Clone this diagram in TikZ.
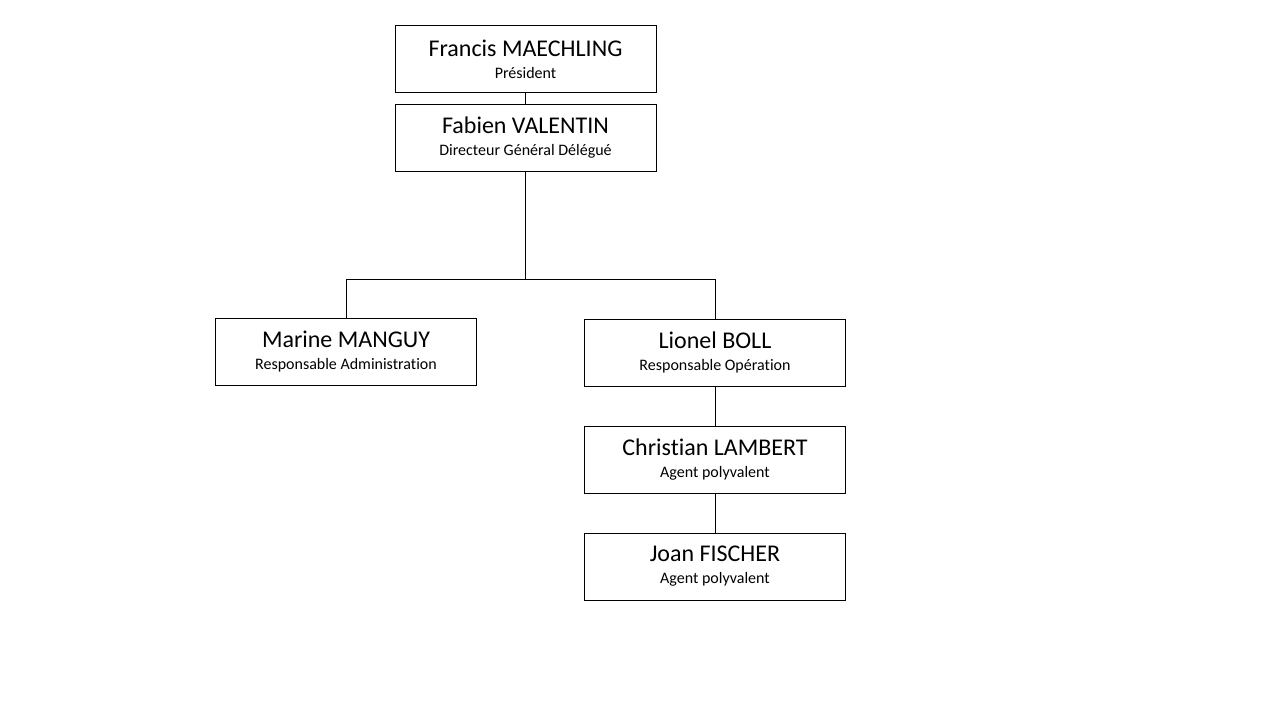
\documentclass[tikz,border=0pt]{standalone}
\usepackage{fontspec}
\setmainfont[Ligatures=NoCommon]{Carlito}
\usetikzlibrary{positioning}

\tikzset{
    person/.style={draw, line width=1pt, minimum width=261pt, minimum height=67pt, inner sep=0pt, align=center},
    link/.style={line width=1pt}
}
\newcommand{\pname}[1]{{\fontsize{24}{26}\selectfont #1}}
\newcommand{\prole}[1]{{\fontsize{16}{22}\selectfont #1}}

\begin{document}
\begin{tikzpicture}[x=1pt,y=-1pt]
            \useasboundingbox (0,0) rectangle (1280,720);

            \node[person] (pres) at (525.5,59) {\pname{Francis MAECHLING}\\[10pt]\prole{Président}};
            \node[person] (dgd) at (525.5,137.5) {\pname{Fabien VALENTIN}\\[10pt]\prole{Directeur Général Délégué}};
            \node[person] (admin) at (346,351.5) {\pname{Marine MANGUY}\\[10pt]\prole{Responsable Administration}};
            \node[person] (oper) at (715,352.5) {\pname{Lionel BOLL}\\[10pt]\prole{Responsable Opération}};
            \node[person] (agent1) at (715,459.5) {\pname{Christian LAMBERT}\\[10pt]\prole{Agent polyvalent}};
            \node[person] (agent2) at (715,566.5) {\pname{Joan FISCHER}\\[10pt]\prole{Agent polyvalent}};

            \coordinate (split) at (525.5,279);

            \draw[link] (pres) -- (dgd);
            \draw[link] (dgd) -- (split);
            \draw[link] (split) -| (admin);
            \draw[link] (split) -| (oper);
            \draw[link] (oper) -- (agent1);
            \draw[link] (agent1) -- (agent2);
        \end{tikzpicture}
\end{document}
